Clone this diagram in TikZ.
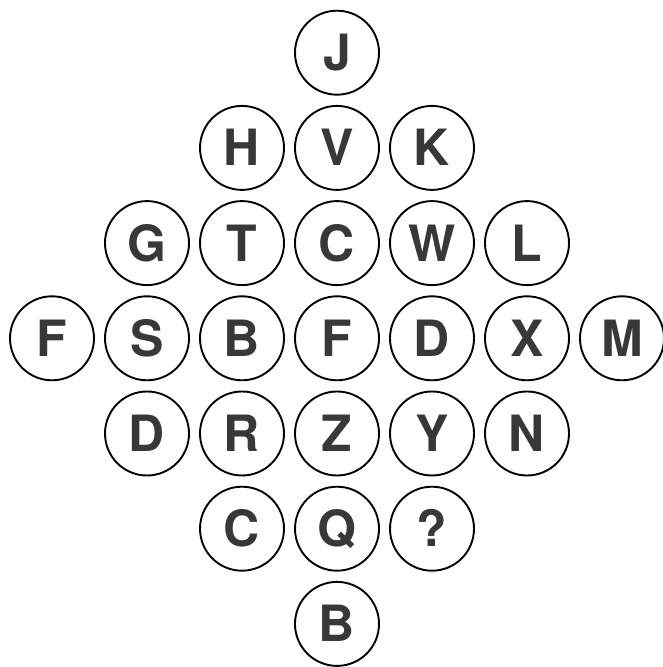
\documentclass[tikz,border=0pt]{standalone}
\usepackage{fontspec}
\setmainfont{TeX Gyre Heros}
\begin{document}
\begin{tikzpicture}[x=1pt,y=1pt,
  ball/.style={circle,draw=black,line width=1.9pt,minimum size=84pt,inner sep=0pt,
    font=\fontsize{50}{50}\selectfont\bfseries,text=black!78,text height=36pt,text depth=0pt}]
\useasboundingbox (0,0) rectangle (662,667);
\def\cx{337}
\def\dx{95}
\def\dy{95.2}
\def\ty{614.3}
% row 0
\node[ball] (J) at (\cx, \ty) {J};
% row 1
\node[ball] (H) at (\cx-\dx, \ty-\dy) {H};
\node[ball] (V) at (\cx, \ty-\dy) {V};
\node[ball] (K) at (\cx+\dx, \ty-\dy) {K};
% row 2
\node[ball] (G) at (\cx-2*\dx, \ty-2*\dy) {G};
\node[ball] (T) at (\cx-\dx, \ty-2*\dy) {T};
\node[ball] (C1) at (\cx, \ty-2*\dy) {C};
\node[ball] (W) at (\cx+\dx, \ty-2*\dy) {W};
\node[ball] (L) at (\cx+2*\dx, \ty-2*\dy) {L};
% row 3
\node[ball] (F1) at (\cx-3*\dx, \ty-3*\dy) {F};
\node[ball] (S) at (\cx-2*\dx, \ty-3*\dy) {S};
\node[ball] (B1) at (\cx-\dx, \ty-3*\dy) {B};
\node[ball] (F2) at (\cx, \ty-3*\dy) {F};
\node[ball] (D1) at (\cx+\dx, \ty-3*\dy) {D};
\node[ball] (X) at (\cx+2*\dx, \ty-3*\dy) {X};
\node[ball] (M) at (\cx+3*\dx, \ty-3*\dy) {M};
% row 4
\node[ball] (D2) at (\cx-2*\dx, \ty-4*\dy) {D};
\node[ball] (R) at (\cx-\dx, \ty-4*\dy) {R};
\node[ball] (Z) at (\cx, \ty-4*\dy) {Z};
\node[ball] (Y) at (\cx+\dx, \ty-4*\dy) {Y};
\node[ball] (N) at (\cx+2*\dx, \ty-4*\dy) {N};
% row 5
\node[ball] (C2) at (\cx-\dx, \ty-5*\dy) {C};
\node[ball] (Q) at (\cx, \ty-5*\dy) {Q};
\node[ball] (qm) at (\cx+\dx, \ty-5*\dy) {?};
% row 6
\node[ball] (B2) at (\cx, \ty-6*\dy) {B};
\end{tikzpicture}
\end{document}
